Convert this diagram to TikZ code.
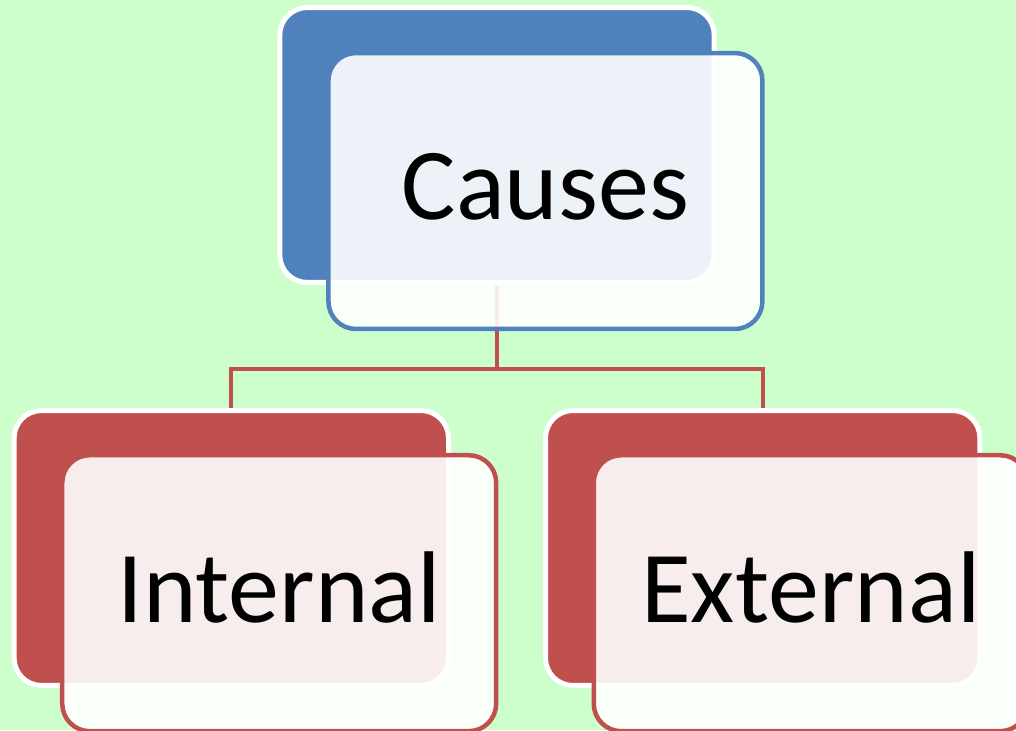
\documentclass[tikz,border=0pt]{standalone}
\usepackage{fontspec}
\setmainfont{Carlito}
\definecolor{bggreen}{HTML}{CCFFCC}
\definecolor{topblue}{HTML}{4F81BD}
\definecolor{subred}{HTML}{C0504D}
\begin{document}
\begin{tikzpicture}[
    x=0.02cm,y=-0.02cm,
    backbox/.style={rounded corners=0.55cm,minimum width=8.69cm,minimum height=5.5cm,
        draw=white,line width=0.1cm,inner sep=0pt},
    frontbox/.style={rounded corners=0.55cm,minimum width=8.68cm,minimum height=5.52cm,
        fill=white,fill opacity=0.9,text opacity=1,line width=0.09cm,inner sep=0pt,
        font=\fontsize{58pt}{60pt}\selectfont,text height=1.16cm,text depth=0pt},
    link/.style={draw=subred,line width=0.08cm}
]
\useasboundingbox (0,0) rectangle (1016,730);
\clip (0,0) rectangle (1016,730);
\fill[bggreen] (0,0) rectangle (1016,730);

% back panels
\node[backbox,fill=topblue] (causesbk) at (497,145) {};
\node[backbox,fill=subred] (internalbk) at (231.3,548) {};
\node[backbox,fill=subred] (externalbk) at (762.7,548) {};

% tree lines
\coordinate (split) at (497,369);
\draw[link] (causesbk.south) -- (split) -| (internalbk.north);
\draw[link] (split) -| (externalbk.north);

% text panels
\node[frontbox,draw=topblue] (causes) at (545.4,191) {Causes};
\node[frontbox,draw=subred] (internal) at (279.2,593.2) {Internal};
\node[frontbox,draw=subred] (external) at (810.7,593.2) {External};
\end{tikzpicture}
\end{document}
